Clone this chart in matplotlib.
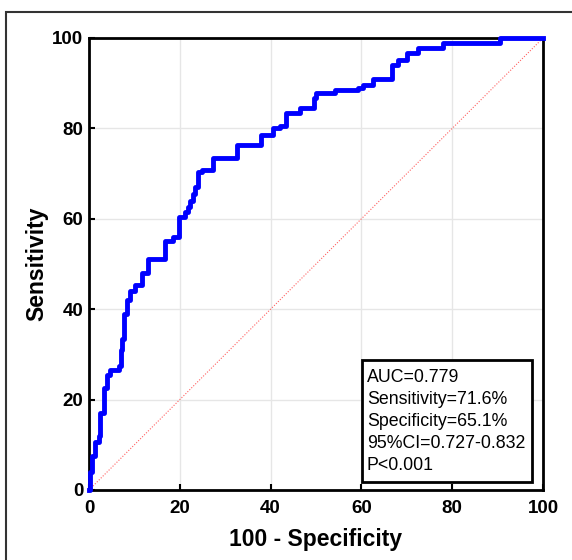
import matplotlib
matplotlib.use("Agg")
import matplotlib.pyplot as plt
from matplotlib.patches import Rectangle

plt.rcParams['font.family'] = ['Liberation Sans', 'DejaVu Sans']

# ROC curve corners (100 - specificity, sensitivity)
fpr = [0, 0.3, 0.6, 1.3, 2.3, 2.5, 3.2, 3.3, 3.9, 4.0, 4.6, 6.7, 7.0, 7.2, 7.7,
       8.3, 9.0, 10.1, 11.6, 13.0, 16.7, 18.6, 19.9, 21.1, 21.7, 22.2, 23.0,
       23.3, 24.1, 24.8, 27.3, 32.5, 37.8, 40.6, 42.0, 43.5, 46.5, 49.5, 50.0,
       54.2, 59.3, 60.4, 62.6, 66.7, 68.0, 70.0, 72.5, 78.0, 90.5, 100]
tpr = [0, 4, 7.5, 10.7, 12, 17, 20, 22.6, 24, 25.5, 26.5, 27.5, 31, 33.5, 39,
       42, 44, 45.3, 48, 51, 55, 56, 60.5, 61.6, 62.5, 64, 65.5, 67, 70.4,
       70.8, 73.4, 76.3, 78.5, 80, 80.5, 83.3, 84.5, 86.7, 87.8, 88.5, 89,
       89.6, 91, 94, 95.1, 96.6, 97.7, 98.8, 100, 100]

ticks = [0, 20, 40, 60, 80, 100]
stats = ["AUC=0.779", "Sensitivity=71.6%", "Specificity=65.1%",
         "95%CI=0.727-0.832", "P<0.001"]

fig = plt.figure(figsize=(5.72, 5.6), dpi=100)
ax = fig.add_axes([89 / 572, 70 / 560, 454 / 572, 452 / 560])

ax.plot([0, 100], [0, 100], color="#ff6060", lw=0.8, ls=(0, (1, 1.5)), zorder=2)
ax.plot(fpr, tpr, drawstyle="steps-post", color="#0000ff", lw=3.5, zorder=3,
        clip_on=False)

ax.set_xlim(0, 100)
ax.set_ylim(0, 100)
ax.set_xticks(ticks)
ax.set_yticks(ticks)
ax.grid(True, color="#e6e6e6", lw=1)
ax.set_axisbelow(True)
ax.tick_params(direction="in", length=4, width=1.5, labelsize=13.5)
ax.tick_params(axis="x", pad=7)
ax.tick_params(axis="y", pad=4)
for lab in ax.get_xticklabels() + ax.get_yticklabels():
    lab.set_fontweight("bold")
for sp in ax.spines.values():
    sp.set_linewidth(2)

ax.set_xlabel("100 - Specificity", fontsize=16.5, fontweight="bold", labelpad=8)
ax.set_ylabel("Sensitivity", fontsize=16.5, fontweight="bold", labelpad=3)

# stats box
ax.add_patch(Rectangle((60.1, 1.8), 37.5, 27.0, fill=True, facecolor="white",
                       edgecolor="black", lw=2, zorder=4))
for i, s in enumerate(stats):
    ax.text(61.2, 24.9 - i * 4.85, s, fontsize=12.8, va="center", ha="left",
            zorder=5)

# outer frame
fig.patches.append(Rectangle((6 / 572, -0.1), 1.2, 1 - 12 / 560 + 0.1,
                             transform=fig.transFigure, fill=False,
                             edgecolor="#333333", lw=1.5))

fig.savefig("out.png", dpi=100)
